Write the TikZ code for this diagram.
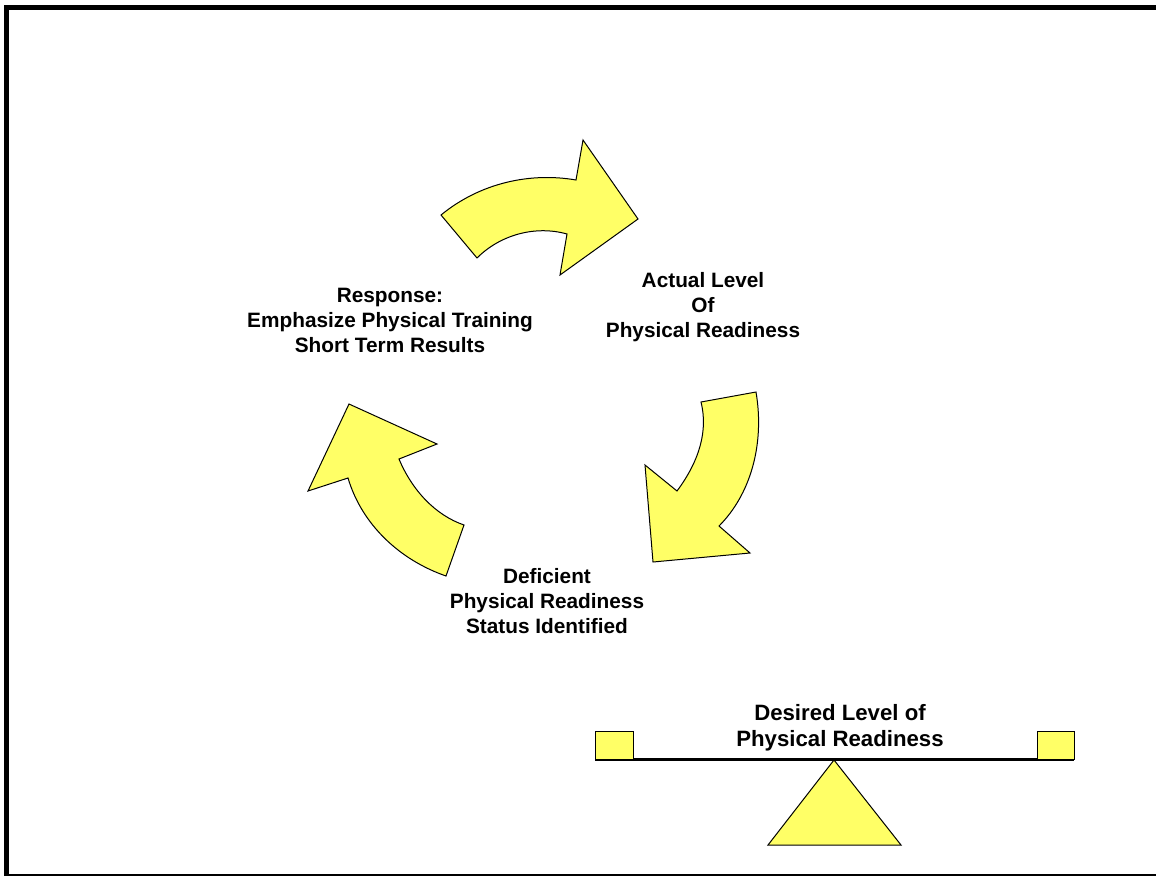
\documentclass[tikz,border=0pt]{standalone}
\usepackage{fontspec}
\setmainfont{Liberation Sans}
\begin{document}
\begin{tikzpicture}[x=1pt,y=-1pt,
  arrowshape/.style={fill=yfill,draw=black,line width=1pt,line join=miter},
  lbl/.style={font=\fontsize{20.8}{25}\selectfont\bfseries,align=center,inner sep=0pt},
  biglbl/.style={font=\fontsize{22.2}{26}\selectfont\bfseries,align=center,inner sep=0pt},
  boxshape/.style={fill=yfill,draw=black,line width=1pt}]
\definecolor{yfill}{RGB}{255,255,102}
\useasboundingbox (0,0) rectangle (1156,876);
\fill[white] (0,0) rectangle (1156,876);
% frame
\draw[line width=5.5pt] (4,7.5) -- (1156,7.5);
\draw[line width=5.5pt] (6.5,5) -- (6.5,876);
\draw[line width=1.5pt] (9,875) -- (1156,875);
% arrow 1 (top)
\draw[arrowshape] (441,215) .. controls (480,183) and (530,172) .. (576,180)
  -- (583,140) -- (638,219) -- (560,275) -- (567,234)
  .. controls (535,225) and (500,235) .. (477,258) -- cycle;
% arrow 2 (right)
\draw[arrowshape] (756,392) .. controls (765,445) and (750,495) .. (719,526)
  -- (750,553) -- (653,562) -- (645,465) -- (677,491)
  .. controls (700,460) and (708,430) .. (701,402) -- cycle;
% arrow 3 (left)
\draw[arrowshape] (446,576) .. controls (400,560) and (362,525) .. (348,478)
  -- (308,491) -- (349,404) -- (437,444) -- (399,459)
  .. controls (412,490) and (435,515) .. (464,525) -- cycle;
% labels
\node[lbl] (resp) at (390,320) {Response:\\Emphasize Physical Training\\Short Term Results};
\node[lbl] (actual) at (703,307) {Actual Level\\Of\\Physical Readiness};
\node[lbl] (defic) at (547,601) {Deficient\\Physical Readiness\\Status Identified};
% seesaw
\draw[line width=3pt] (595,759) -- (1074,759);
\node[boxshape,minimum width=38pt,minimum height=28pt,inner sep=0pt] (lbox) at (614,745) {};
\node[boxshape,minimum width=37pt,minimum height=28pt,inner sep=0pt] (rbox) at (1055.5,745) {};
\draw[boxshape] (834,760) -- (901,845) -- (768,845) -- cycle;
\node[biglbl] (desired) at (840,728) {Desired Level of\\Physical Readiness};
\end{tikzpicture}
\end{document}
